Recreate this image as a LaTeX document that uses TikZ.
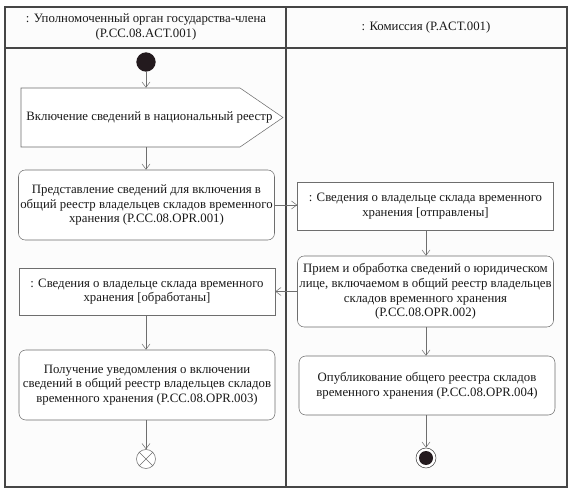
\documentclass[tikz,border=0pt]{standalone}
\usepackage{fontspec}
\setmainfont{Liberation Serif}
\usepackage{tikz}
\usetikzlibrary{arrows.meta}
\definecolor{lanegray}{RGB}{70,70,70}
\definecolor{boxgray}{RGB}{110,110,110}
\definecolor{txtgray}{RGB}{25,25,25}
\definecolor{dotblack}{RGB}{35,26,30}

\begin{document}
\begin{tikzpicture}[x=0.75pt,y=0.75pt,yscale=-1,xscale=1,
  every node/.style={font=\rmfamily\fontsize{9.6}{11}\selectfont,text=txtgray},
  actbox/.style={draw=boxgray,rounded corners=5pt,fill=white,align=center,inner sep=0.75pt,minimum width=192pt},
  objbox/.style={draw=boxgray,fill=white,align=center,inner sep=0.75pt,minimum width=192pt},
  flow/.style={draw=boxgray,-{Straight Barb[length=4pt,width=6pt]}}]
\useasboundingbox (0,0) rectangle (572,492);

%Shape: Swimlanes
\draw [lanegray,line width=0.9pt,fill={rgb,255:red,252;green,252;blue,252}] (5,7) rectangle (567,487);
\draw [lanegray,line width=0.9pt] (5,48) -- (567,48);
\draw [lanegray,line width=0.9pt] (286,7) -- (286,487);

% Text Node
\node (laneA) at (146,27) [align=center] {: Уполномоченный орган государства-члена\\(P.CC.08.ACT.001)};
% Text Node
\node (laneB) at (426,27) {: Комиссия (P.ACT.001)};

%Shape: Initial node
\node (start) at (146,62) [circle,fill=dotblack,minimum size=14.5pt,inner sep=0pt] {};
%Shape: Send signal
\draw [boxgray,fill=white] (21,88) -- (240,88) -- (283,117.5) -- (240,147) -- (21,147) -- cycle;
\node (signal) at (146,117.5) [minimum width=164pt,minimum height=44.25pt,inner sep=0pt] {};
\node at (149.5,117.5) {Включение сведений в национальный реестр};

% Actions and objects
\node (act1) at (146.5,205) [actbox,minimum height=52.5pt] {Представление сведений для включения в\\общий реестр владельцев складов временного\\хранения (P.CC.08.OPR.001)};
\node (obj1) at (425.5,206) [objbox,minimum height=36pt] {: Сведения о владельце склада временного\\хранения [отправлены]};
\node (act2) at (425.5,291.5) [actbox,minimum height=53.25pt] {Прием и обработка сведений о юридическом\\лице, включаемом в общий реестр владельцев\\складов временного хранения\\(P.CC.08.OPR.002)};
\node (obj2) at (147,291.5) [objbox,minimum height=35.25pt] {: Сведения о владельце склада временного\\хранения [обработаны]};
\node (act3) at (147,385) [actbox,minimum height=52.5pt] {Получение уведомления о включении\\сведений в общий реестр владельцев складов\\временного хранения (P.CC.08.OPR.003)};
\node (act4) at (427,385.5) [actbox,minimum height=44.25pt] {Опубликование общего реестра складов\\временного хранения (P.CC.08.OPR.004)};

%Shape: Flow final
\node (flowend) at (146,459) [circle,draw=boxgray,fill=white,minimum size=14.25pt,inner sep=0pt] {};
\draw [boxgray] (flowend.north west) -- (flowend.south east) (flowend.north east) -- (flowend.south west);
%Shape: Activity final
\node (final) at (426,458) [circle,draw=lanegray,fill=white,minimum size=15pt,inner sep=0pt] {};
\node at (final) [circle,fill=dotblack,minimum size=10.5pt,inner sep=0pt] {};

% Connectors
\draw [flow] (start) -- (start|-signal.north);
\draw [flow] (start|-signal.south) -- (start|-act1.north);
\draw [flow] (act1.east) -- (act1.east-|obj1.west);
\draw [flow] (obj1.south-|final) -- (act2.north-|final);
\draw [flow] (act2.west) -- (act2.west-|obj2.east);
\draw [flow] (obj2.south-|start) -- (act3.north-|start);
\draw [flow] (act3.south-|start) -- (flowend);
\draw [flow] (act2.south-|final) -- (act4.north-|final);
\draw [flow] (act4.south-|final) -- (final);

\end{tikzpicture}
\end{document}
